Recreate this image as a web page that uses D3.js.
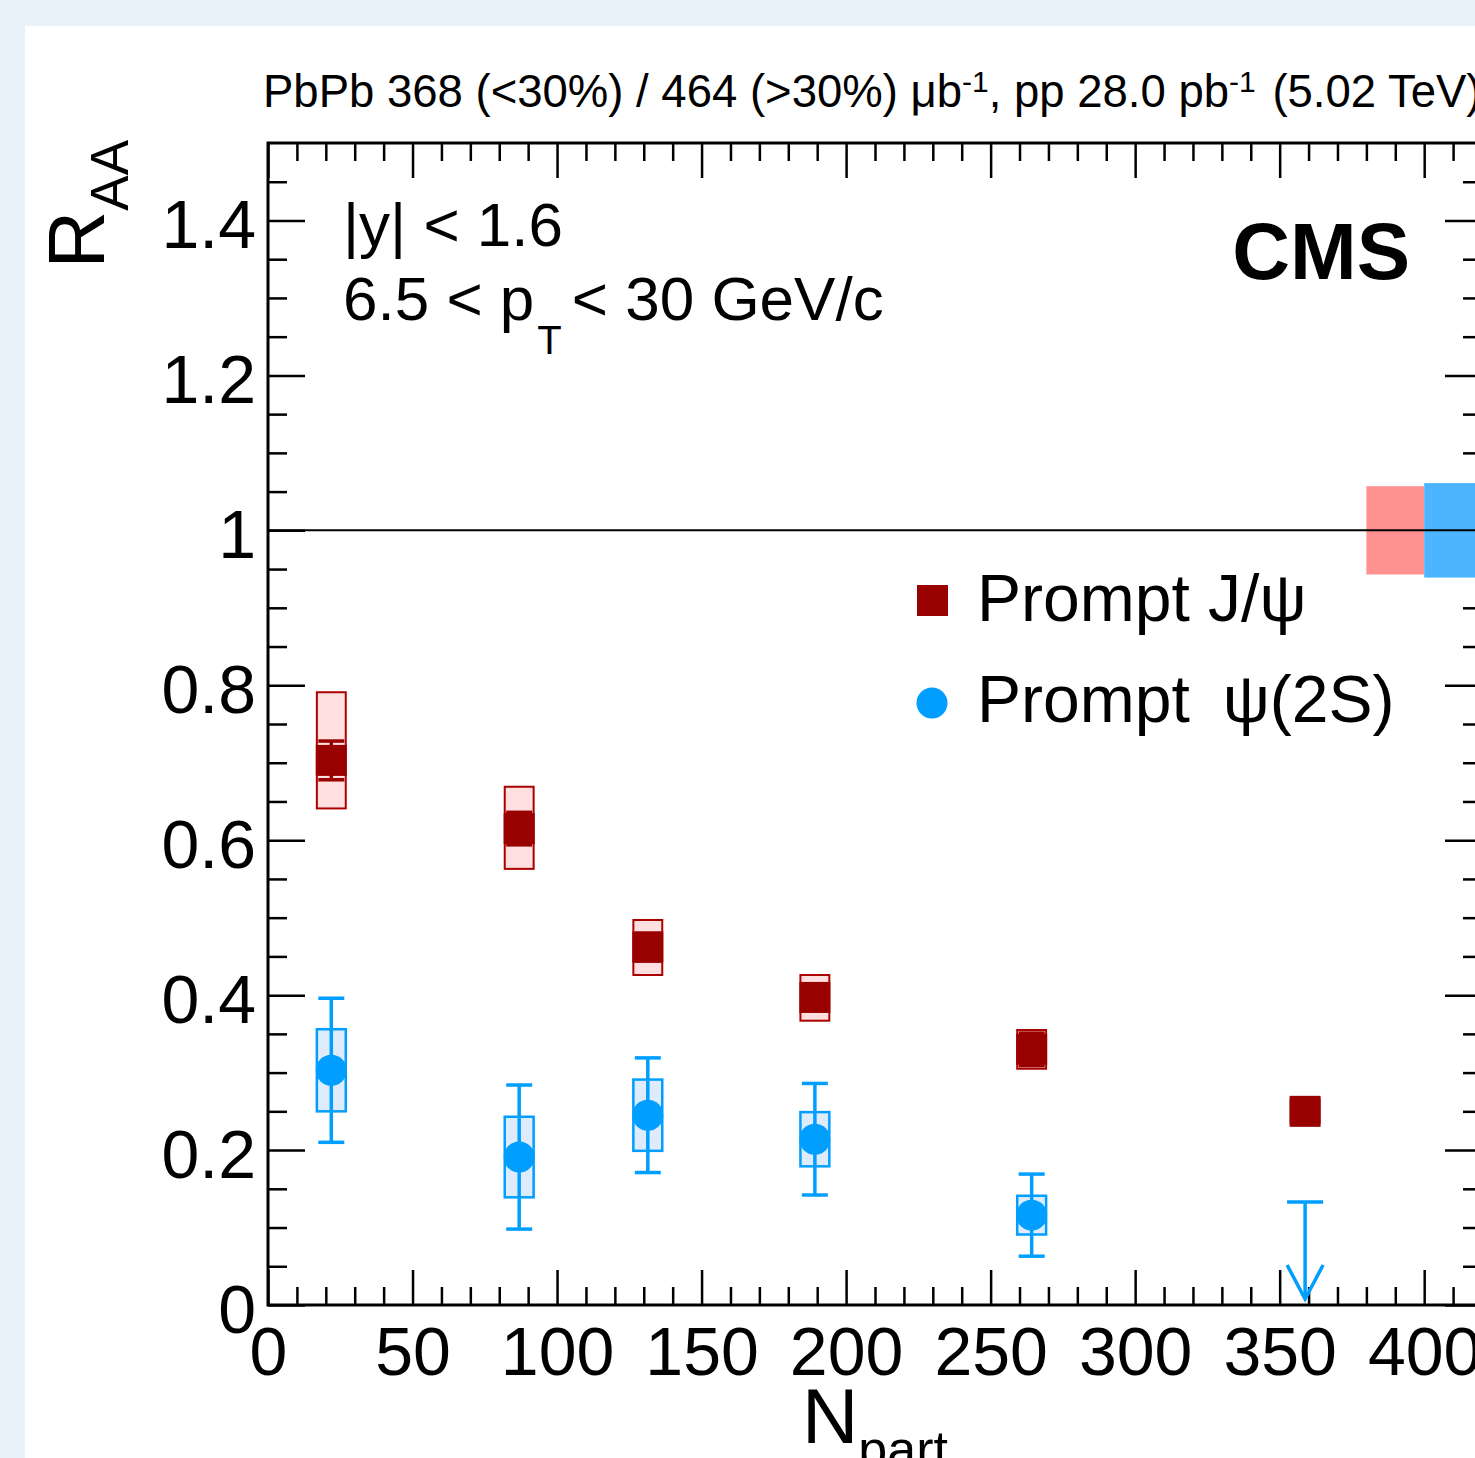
<!DOCTYPE html>
<html>
<head>
<meta charset="utf-8">
<script src="https://cdn.jsdelivr.net/npm/d3@7"></script>
<style>
  body { margin: 0; background: #e9f1f9; }
  svg { display: block; }
  text { font-family: "Liberation Sans", Arial, sans-serif; }
</style>
</head>
<body>
<div id="content"></div>
<script>
// valeurs
let npart = [21.9, 86.9, 131.4, 189.2, 264.2, 358.8];

let jpsiRaa = [0.703, 0.615, 0.462, 0.397, 0.330, 0.250];
let jpsiStat = [0.025, 0.021, 0.018, 0.016, 0.021, 0.014];
let jpsiSystUp = [0.088, 0.054, 0.035, 0.029, 0.025, 0.015];
let jpsiSystDn = [0.062, 0.052, 0.036, 0.030, 0.025, 0.015];

let psiRaa = [0.303, 0.191, 0.245, 0.214, 0.116];
let psiStat = [0.093, 0.093, 0.074, 0.072, 0.053];
let psiSyst = [0.053, 0.052, 0.046, 0.035, 0.025];
// limite superieure pour le bin le plus central
let psiLimitNpart = 358.8;
let psiLimitValue = 0.133;

// incertitudes globales (boites autour de 1)
let globalBoxes = [
    {x0: 380, x1: 400, err: 0.057, color: "#ff9191"},
    {x0: 400, x1: 420, err: 0.061, color: "#4db5ff"}
];

let xTicks = [0, 50, 100, 150, 200, 250, 300, 350, 400];
let xTickLabels = ["0", "50", "100", "150", "200", "250", "300", "350", "400"];
let yTicks = [0, 0.2, 0.4, 0.6, 0.8, 1, 1.2, 1.4];
let yTickLabels = ["0", "0.2", "0.4", "0.6", "0.8", "1", "1.2", "1.4"];

let jpsiColor = "#990000";
let psiColor = "#009fff";

let W = 1475, H = 1458;

let svg = d3.select("#content").append("svg")
    .attr("width", W)
    .attr("height", H);

// fond
svg.append("rect").attr("width", W).attr("height", H).attr("fill", "#e9f1f9");
svg.append("rect").attr("x", 25).attr("y", 26).attr("width", W).attr("height", H).attr("fill", "#ffffff");

let x = d3.scaleLinear().domain([0, 420]).range([268, 1482]);
let y = d3.scaleLinear().domain([0, 1.5]).range([1305, 143]);

let minorX = d3.range(0, 421, 10).filter(d => d % 50 != 0);
let minorY = d3.range(0, 30).map(i => i * 0.05).filter(d => Math.abs(d / 0.2 - Math.round(d / 0.2)) > 0.01);

function styleAxis(g) {
    g.select(".domain").remove();
    g.selectAll(".tick line").attr("stroke", "#000").attr("stroke-width", 2.5);
    g.selectAll("text")
        .attr("font-family", "'Liberation Sans', Arial, sans-serif")
        .attr("font-size", 68)
        .attr("fill", "#000");
}

// axe du bas
svg.append("g")
    .attr("transform", "translate(0,1305)")
    .call(d3.axisBottom(x).tickValues(xTicks).tickSize(-35).tickPadding(22)
        .tickFormat((d, i) => xTickLabels[i]))
    .call(styleAxis);
svg.append("g")
    .attr("transform", "translate(0,1305)")
    .call(d3.axisBottom(x).tickValues(minorX).tickSize(-18).tickFormat(""))
    .call(styleAxis);

// axe du haut
svg.append("g")
    .attr("transform", "translate(0,143)")
    .call(d3.axisTop(x).tickValues(xTicks).tickSize(-35).tickFormat(""))
    .call(styleAxis);
svg.append("g")
    .attr("transform", "translate(0,143)")
    .call(d3.axisTop(x).tickValues(minorX).tickSize(-18).tickFormat(""))
    .call(styleAxis);

// axe de gauche
svg.append("g")
    .attr("transform", "translate(268,0)")
    .call(d3.axisLeft(y).tickValues(yTicks).tickSize(-37).tickPadding(12)
        .tickFormat((d, i) => yTickLabels[i]))
    .call(styleAxis)
    .selectAll("text").attr("dy", "0.4em");
svg.append("g")
    .attr("transform", "translate(268,0)")
    .call(d3.axisLeft(y).tickValues(minorY).tickSize(-19).tickFormat(""))
    .call(styleAxis);

// axe de droite
svg.append("g")
    .attr("transform", "translate(1482,0)")
    .call(d3.axisRight(y).tickValues(yTicks).tickSize(-37).tickFormat(""))
    .call(styleAxis);
svg.append("g")
    .attr("transform", "translate(1482,0)")
    .call(d3.axisRight(y).tickValues(minorY).tickSize(-19).tickFormat(""))
    .call(styleAxis);

// cadre
svg.append("rect")
    .attr("x", x(0)).attr("y", y(1.5))
    .attr("width", x(420) - x(0)).attr("height", y(0) - y(1.5))
    .attr("fill", "none").attr("stroke", "#000").attr("stroke-width", 3);

// boites globales
svg.selectAll("rect.global")
    .data(globalBoxes)
    .enter()
    .append("rect")
    .attr("class", "global")
    .attr("x", d => x(d.x0))
    .attr("width", d => x(d.x1) - x(d.x0))
    .attr("y", d => y(1 + d.err))
    .attr("height", d => y(1 - d.err) - y(1 + d.err))
    .attr("fill", d => d.color);

// ligne a 1
svg.append("line")
    .attr("x1", x(0)).attr("x2", x(420))
    .attr("y1", y(1)).attr("y2", y(1))
    .attr("stroke", "#000").attr("stroke-width", 2);

let boxHalf = 5;
let capHalf = 13;

// J/psi : boites systematiques
let jpsi = npart.map((n, i) => ({n: n, v: jpsiRaa[i], stat: jpsiStat[i], up: jpsiSystUp[i], dn: jpsiSystDn[i]}));

svg.selectAll("rect.jsyst")
    .data(jpsi)
    .enter()
    .append("rect")
    .attr("class", "jsyst")
    .attr("x", d => x(d.n - boxHalf))
    .attr("width", d => x(d.n + boxHalf) - x(d.n - boxHalf))
    .attr("y", d => y(d.v + d.up))
    .attr("height", d => y(d.v - d.dn) - y(d.v + d.up))
    .attr("fill", "#ffdfdf")
    .attr("stroke", "#aa0000")
    .attr("stroke-width", 2);

// psi(2S) : boites systematiques
let psi = psiRaa.map((v, i) => ({n: npart[i], v: v, stat: psiStat[i], syst: psiSyst[i]}));

svg.selectAll("rect.psyst")
    .data(psi)
    .enter()
    .append("rect")
    .attr("class", "psyst")
    .attr("x", d => x(d.n - boxHalf))
    .attr("width", d => x(d.n + boxHalf) - x(d.n - boxHalf))
    .attr("y", d => y(d.v + d.syst))
    .attr("height", d => y(d.v - d.syst) - y(d.v + d.syst))
    .attr("fill", "#deebfa")
    .attr("stroke", psiColor)
    .attr("stroke-width", 2.5);

// barres d'erreur stat
function drawErrors(data, color, width) {
    let g = svg.append("g").attr("stroke", color).attr("stroke-width", width);
    data.forEach(function(d) {
        let cx = x(d.n);
        g.append("line").attr("x1", cx).attr("x2", cx)
            .attr("y1", y(d.v + d.stat)).attr("y2", y(d.v - d.stat));
        [d.v + d.stat, d.v - d.stat].forEach(function(e) {
            g.append("line").attr("x1", cx - capHalf).attr("x2", cx + capHalf)
                .attr("y1", y(e)).attr("y2", y(e));
        });
    });
}
drawErrors(jpsi, jpsiColor, 3.5);
drawErrors(psi, psiColor, 3.5);

// limite superieure psi(2S)
let lim = svg.append("g").attr("stroke", psiColor).attr("stroke-width", 3.5).attr("fill", "none");
lim.append("line")
    .attr("x1", x(psiLimitNpart) - 18).attr("x2", x(psiLimitNpart) + 18)
    .attr("y1", y(psiLimitValue)).attr("y2", y(psiLimitValue));
lim.append("line")
    .attr("x1", x(psiLimitNpart)).attr("x2", x(psiLimitNpart))
    .attr("y1", y(psiLimitValue)).attr("y2", y(0) - 6);
lim.append("polyline")
    .attr("points", [[x(psiLimitNpart) - 18, y(0) - 40], [x(psiLimitNpart), y(0) - 6], [x(psiLimitNpart) + 18, y(0) - 40]].join(" "));

// marqueurs
svg.selectAll("rect.jmark")
    .data(jpsi)
    .enter()
    .append("rect")
    .attr("class", "jmark")
    .attr("x", d => x(d.n) - 15.5)
    .attr("y", d => y(d.v) - 15.5)
    .attr("width", 31).attr("height", 31)
    .attr("fill", jpsiColor);

svg.selectAll("circle.pmark")
    .data(psi)
    .enter()
    .append("circle")
    .attr("class", "pmark")
    .attr("cx", d => x(d.n))
    .attr("cy", d => y(d.v))
    .attr("r", 15.5)
    .attr("fill", psiColor);

// legende
svg.append("rect").attr("x", 917).attr("y", 585).attr("width", 31).attr("height", 31).attr("fill", jpsiColor);
svg.append("text").attr("x", 977).attr("y", 621).attr("font-size", 66).text("Prompt J/\u03c8");
svg.append("circle").attr("cx", 932).attr("cy", 703).attr("r", 15.5).attr("fill", psiColor);
svg.append("text").attr("x", 977).attr("y", 722).attr("font-size", 66).text("Prompt\u2002\u03c8(2S)");

// textes
svg.append("text").attr("x", 343).attr("y", 246).attr("font-size", 62).text("|y| < 1.6");
let pt = svg.append("text").attr("x", 343).attr("y", 320).attr("font-size", 62);
pt.append("tspan").text("6.5 < p");
pt.append("tspan").attr("font-size", 40).attr("dy", 34).attr("dx", 3).text("T");
pt.append("tspan").attr("dy", -34).attr("dx", 10).text("< 30 GeV/c");

svg.append("text").attr("x", 1410).attr("y", 279).attr("text-anchor", "end")
    .attr("font-size", 80).attr("font-weight", "bold").text("CMS");

// titre
let title = svg.append("text").attr("x", 263).attr("y", 107).attr("font-size", 45.5);
title.append("tspan").text("PbPb 368 (<30%) / 464 (>30%) \u03bcb");
title.append("tspan").attr("font-size", 30).attr("dy", -15).text("-1");
title.append("tspan").attr("dy", 15).text(", pp 28.0 pb");
title.append("tspan").attr("font-size", 30).attr("dy", -15).text("-1");
title.append("tspan").attr("dy", 15).attr("dx", 4).text(" (5.02 TeV)");

// titres des axes
let ytitle = svg.append("text")
    .attr("transform", "translate(104,140) rotate(-90)")
    .attr("text-anchor", "end")
    .attr("font-size", 80);
ytitle.append("tspan").text("R");
ytitle.append("tspan").attr("font-size", 53).attr("dy", 24).text("AA");

let xtitle = svg.append("text")
    .attr("x", 875).attr("y", 1443)
    .attr("text-anchor", "middle")
    .attr("font-size", 78);
xtitle.append("tspan").text("N");
xtitle.append("tspan").attr("font-size", 52).attr("dy", 24).text("part");
</script>
</body>
</html>
